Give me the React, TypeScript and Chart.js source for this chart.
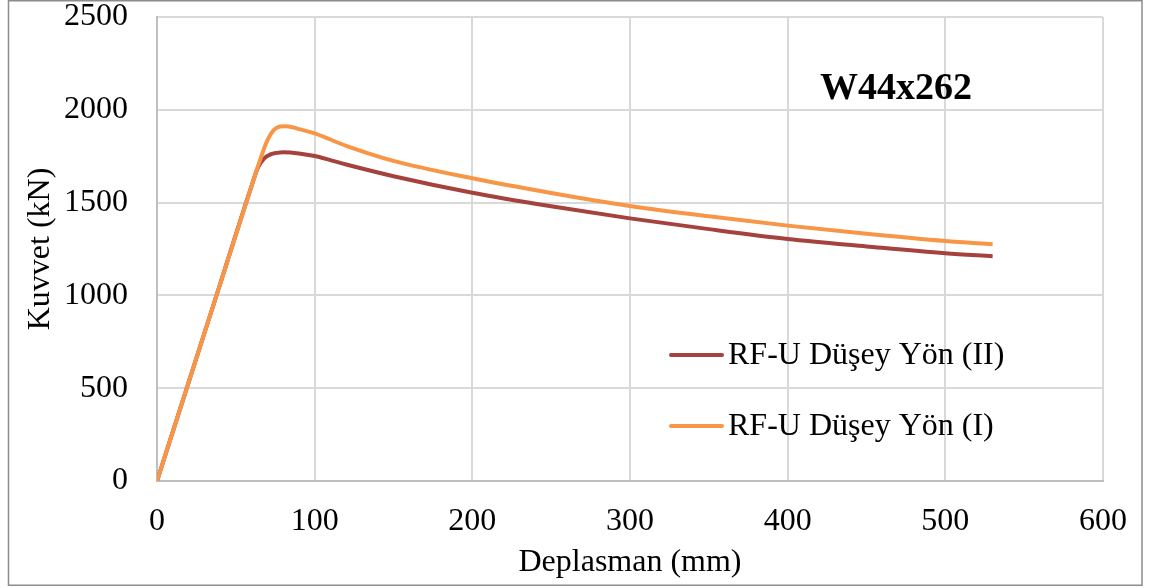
import React, { useEffect, useRef } from "react";
import { Chart, registerables } from "chart.js";

Chart.register(...registerables);

const seriesIName = "RF-U Düşey Yön (I)";
const seriesIIName = "RF-U Düşey Yön (II)";
const chartTitle = "W44x262";
const xAxisTitle = "Deplasman (mm)";
const yAxisTitle = "Kuvvet (kN)";

const xI = [0, 20, 40, 60, 66, 70, 74, 78, 82, 90, 100, 120, 150, 200, 250, 300, 350, 400, 450, 500, 530];
const yI = [0, 530, 1060, 1590, 1745, 1835, 1890, 1910, 1912, 1896, 1873, 1806, 1725, 1631, 1552, 1482, 1426, 1376, 1332, 1293, 1275];

const xII = [0, 20, 40, 60, 64, 68, 72, 76, 80, 90, 100, 120, 150, 200, 250, 300, 350, 400, 450, 500, 530];
const yII = [0, 530, 1060, 1590, 1688, 1738, 1760, 1768, 1771, 1765, 1751, 1705, 1642, 1553, 1480, 1415, 1357, 1304, 1264, 1227, 1211];

const xTicks = [0, 100, 200, 300, 400, 500, 600];
const yTicks = [0, 500, 1000, 1500, 2000, 2500];

const colorI = "#f79646";
const colorII = "#a5423e";
const FONT = "'Liberation Serif', 'Times New Roman', serif";

export default function App() {
  const ref = useRef<HTMLCanvasElement | null>(null);

  useEffect(() => {
    if (!ref.current) return;
    const decor = {
      id: "decor",
      afterDraw(chart: any) {
        const ctx = chart.ctx;
        ctx.save();
        // outer frame
        ctx.strokeStyle = "#8c8c8c";
        ctx.lineWidth = 1.5;
        ctx.strokeRect(8.5, 0.75, 1133.5, 584.5);
        // title
        ctx.fillStyle = "#000";
        ctx.font = `bold 38px ${FONT}`;
        ctx.textAlign = "center";
        ctx.textBaseline = "middle";
        ctx.fillText(chartTitle, 896, 89);
        // legend
        const items = [
          { name: seriesIIName, color: colorII, y: 355 },
          { name: seriesIName, color: colorI, y: 426 },
        ];
        ctx.font = `32px ${FONT}`;
        ctx.textAlign = "left";
        items.forEach((it) => {
          ctx.strokeStyle = it.color;
          ctx.lineWidth = 4;
          ctx.lineCap = "round";
          ctx.beginPath();
          ctx.moveTo(671, it.y);
          ctx.lineTo(722, it.y);
          ctx.stroke();
          ctx.fillStyle = "#000";
          ctx.fillText(it.name, 728, it.y + 1);
        });
        ctx.restore();
      },
    };

    const chart = new Chart(ref.current, {
      type: "line",
      data: {
        datasets: [
          {
            label: seriesIName,
            data: xI.map((x, i) => ({ x, y: yI[i] })),
            borderColor: colorI,
            backgroundColor: colorI,
            borderWidth: 4,
            pointRadius: 0,
            cubicInterpolationMode: "monotone",
            fill: false,
          },
          {
            label: seriesIIName,
            data: xII.map((x, i) => ({ x, y: yII[i] })),
            borderColor: colorII,
            backgroundColor: colorII,
            borderWidth: 4,
            pointRadius: 0,
            cubicInterpolationMode: "monotone",
            fill: false,
          },
        ],
      },
      options: {
        responsive: false,
        animation: false,
        layout: { padding: { left: 0, top: 17, right: 49, bottom: 0 } },
        plugins: {
          legend: { display: false },
          tooltip: { enabled: false },
          title: { display: false },
        },
        scales: {
          x: {
            type: "linear",
            min: 0,
            max: 600,
            afterBuildTicks: (s: any) => {
              s.ticks = xTicks.map((v) => ({ value: v }));
            },
            afterFit: (s: any) => {
              s.height = 107;
              s.paddingLeft = 0;
              s.paddingRight = 0;
            },
            ticks: {
              font: { family: FONT, size: 32 },
              color: "#000",
              padding: 21,
              maxRotation: 0,
              callback: (v: any) => String(v),
            },
            grid: { color: "#d9d9d9", lineWidth: 2, drawTicks: false },
            border: { color: "#bfbfbf", width: 2 },
            title: {
              display: true,
              text: xAxisTitle,
              font: { family: FONT, size: 32 },
              color: "#000",
              padding: { top: 0, bottom: 6 },
            },
          },
          y: {
            type: "linear",
            min: 0,
            max: 2500,
            afterBuildTicks: (s: any) => {
              s.ticks = yTicks.map((v) => ({ value: v }));
            },
            afterFit: (s: any) => {
              s.width = 157;
              s.paddingTop = 0;
              s.paddingBottom = 0;
            },
            ticks: {
              font: { family: FONT, size: 32 },
              color: "#000",
              padding: 29,
              callback: (v: any) => String(v),
            },
            grid: { color: "#d9d9d9", lineWidth: 2, drawTicks: false },
            border: { color: "#bfbfbf", width: 2 },
            title: {
              display: true,
              text: yAxisTitle,
              font: { family: FONT, size: 32 },
              color: "#000",
              padding: { top: 21, bottom: 0 },
            },
          },
        },
      },
      plugins: [decor],
    } as any);
    return () => chart.destroy();
  }, []);

  return (
    <div style={{ position: "fixed", left: 0, top: 0, width: 1152, height: 588, background: "#fff" }}>
      <canvas ref={ref} width={1152} height={588} style={{ display: "block", width: 1152, height: 588 }} />
    </div>
  );
}
